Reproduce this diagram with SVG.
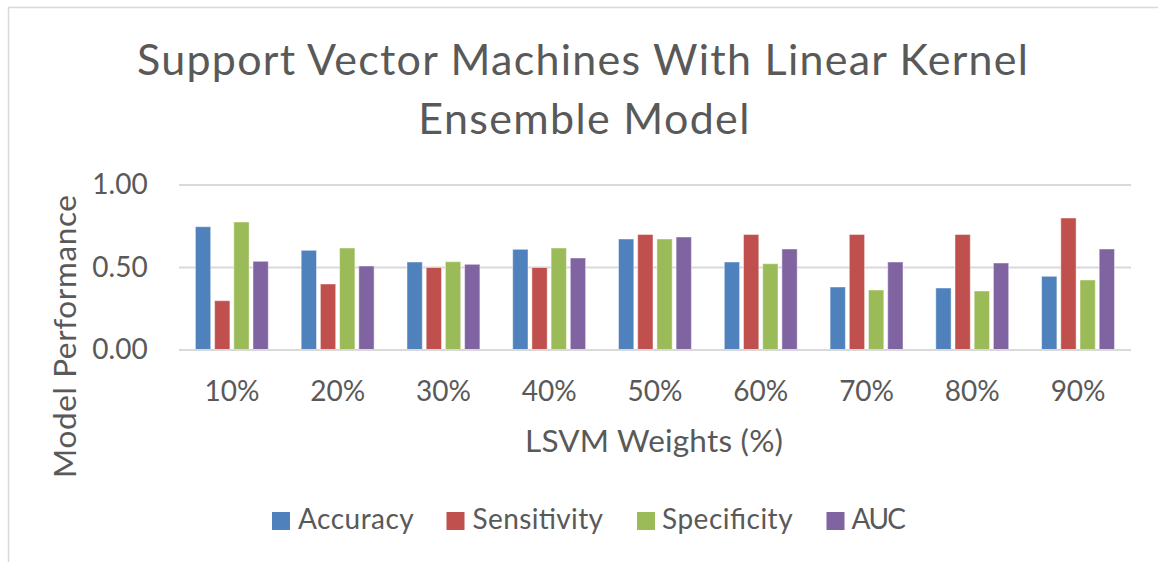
<svg xmlns="http://www.w3.org/2000/svg" width="1158" height="562" viewBox="0 0 1158 562">
<style>
text{font-family:Lato,"Liberation Sans",sans-serif;fill:#595959}
.grid{stroke:#D9D9D9;stroke-width:2}
.acc{fill:#4F81BD}.sen{fill:#C0504D}.spe{fill:#9BBB59}.auc{fill:#8064A2}
.bar rect{stroke:#ffffff;stroke-opacity:0.45;stroke-width:1}
.tick{font-size:28px}
.axt{font-size:31.5px}
.ttl{font-size:43px}
</style>
<rect width="1158" height="562" fill="#ffffff"/>
<g id="frame"><path d="M8.5 562V7.5H1158" fill="none" stroke="#D9D9D9" stroke-width="1.5"/></g>
<g id="title">
<text class="ttl" x="582.5" y="75" text-anchor="middle" textLength="891">Support Vector Machines With Linear Kernel</text>
<text class="ttl" x="583.8" y="134.3" text-anchor="middle" textLength="331">Ensemble Model</text>
</g>
<g id="gridlines">
<line class="grid" x1="179" y1="185" x2="1131" y2="185"/>
<line class="grid" x1="179" y1="267.5" x2="1131" y2="267.5"/>
</g>
<g id="series-accuracy" class="bar">
<rect class="acc" x="195.4" y="226.7" width="15.3" height="123.3"/>
<rect class="acc" x="301.2" y="250.3" width="15.3" height="99.7"/>
<rect class="acc" x="407.0" y="262" width="15.3" height="88"/>
<rect class="acc" x="512.7" y="249.3" width="15.3" height="100.7"/>
<rect class="acc" x="618.5" y="239" width="15.3" height="111"/>
<rect class="acc" x="724.3" y="262" width="15.3" height="88"/>
<rect class="acc" x="830.1" y="287" width="15.3" height="63"/>
<rect class="acc" x="935.8" y="288" width="15.3" height="62"/>
<rect class="acc" x="1041.6" y="276.3" width="15.3" height="73.7"/>
</g>
<g id="series-sensitivity" class="bar">
<rect class="sen" x="214.6" y="300.7" width="15.3" height="49.3"/>
<rect class="sen" x="320.4" y="284" width="15.3" height="66"/>
<rect class="sen" x="426.2" y="267.5" width="15.3" height="82.5"/>
<rect class="sen" x="531.9" y="267.5" width="15.3" height="82.5"/>
<rect class="sen" x="637.7" y="234.5" width="15.3" height="115.5"/>
<rect class="sen" x="743.5" y="234.5" width="15.3" height="115.5"/>
<rect class="sen" x="849.3" y="234.5" width="15.3" height="115.5"/>
<rect class="sen" x="955.0" y="234.5" width="15.3" height="115.5"/>
<rect class="sen" x="1060.8" y="218" width="15.3" height="132"/>
</g>
<g id="series-specificity" class="bar">
<rect class="spe" x="233.8" y="222" width="15.3" height="128"/>
<rect class="spe" x="339.6" y="248" width="15.3" height="102"/>
<rect class="spe" x="445.4" y="261.7" width="15.3" height="88.3"/>
<rect class="spe" x="551.1" y="248" width="15.3" height="102"/>
<rect class="spe" x="656.9" y="239" width="15.3" height="111"/>
<rect class="spe" x="762.7" y="263.7" width="15.3" height="86.3"/>
<rect class="spe" x="868.5" y="290" width="15.3" height="60"/>
<rect class="spe" x="974.2" y="291" width="15.3" height="59"/>
<rect class="spe" x="1080.0" y="280" width="15.3" height="70"/>
</g>
<g id="series-auc" class="bar">
<rect class="auc" x="253.0" y="261.3" width="15.3" height="88.7"/>
<rect class="auc" x="358.8" y="266" width="15.3" height="84"/>
<rect class="auc" x="464.6" y="264.3" width="15.3" height="85.7"/>
<rect class="auc" x="570.3" y="258" width="15.3" height="92"/>
<rect class="auc" x="676.1" y="237" width="15.3" height="113"/>
<rect class="auc" x="781.9" y="249" width="15.3" height="101"/>
<rect class="auc" x="887.7" y="262" width="15.3" height="88"/>
<rect class="auc" x="993.4" y="263" width="15.3" height="87"/>
<rect class="auc" x="1099.2" y="249" width="15.3" height="101"/>
</g>
<g id="axis"><line class="grid" x1="179" y1="350" x2="1131" y2="350"/></g>
<g id="y-ticks" class="tick" text-anchor="end">
<text class="tick" x="147.7" y="194">1.00</text>
<text class="tick" x="147.7" y="276.7">0.50</text>
<text class="tick" x="147.7" y="359.3">0.00</text>
</g>
<g id="x-ticks" text-anchor="middle">
<text class="tick" x="231.9" y="400.7">10%</text>
<text class="tick" x="337.7" y="400.7">20%</text>
<text class="tick" x="443.4" y="400.7">30%</text>
<text class="tick" x="549.2" y="400.7">40%</text>
<text class="tick" x="655" y="400.7">50%</text>
<text class="tick" x="760.8" y="400.7">60%</text>
<text class="tick" x="866.6" y="400.7">70%</text>
<text class="tick" x="972.3" y="400.7">80%</text>
<text class="tick" x="1078.1" y="400.7">90%</text>
</g>
<g id="axis-titles">
<text class="axt" x="654" y="451.7" text-anchor="middle" textLength="258">LSVM Weights (%)</text>
<text class="axt" transform="translate(76 336.5) rotate(-90)" x="0" y="0" text-anchor="middle" textLength="283">Model Performance</text>
</g>
<g id="legend">
<rect class="acc" x="272" y="512" width="18" height="18"/>
<text class="tick" x="298" y="529" textLength="115.8">Accuracy</text>
<rect class="sen" x="446.5" y="512" width="18" height="18"/>
<text class="tick" x="472.6" y="529" textLength="130.4">Sensitivity</text>
<rect class="spe" x="637" y="512" width="18" height="18"/>
<text class="tick" x="662" y="529" textLength="130.6">Specificity</text>
<rect class="auc" x="826.5" y="512" width="18" height="18"/>
<text class="tick" x="851.6" y="529" textLength="54.4">AUC</text>
</g>
</svg>
